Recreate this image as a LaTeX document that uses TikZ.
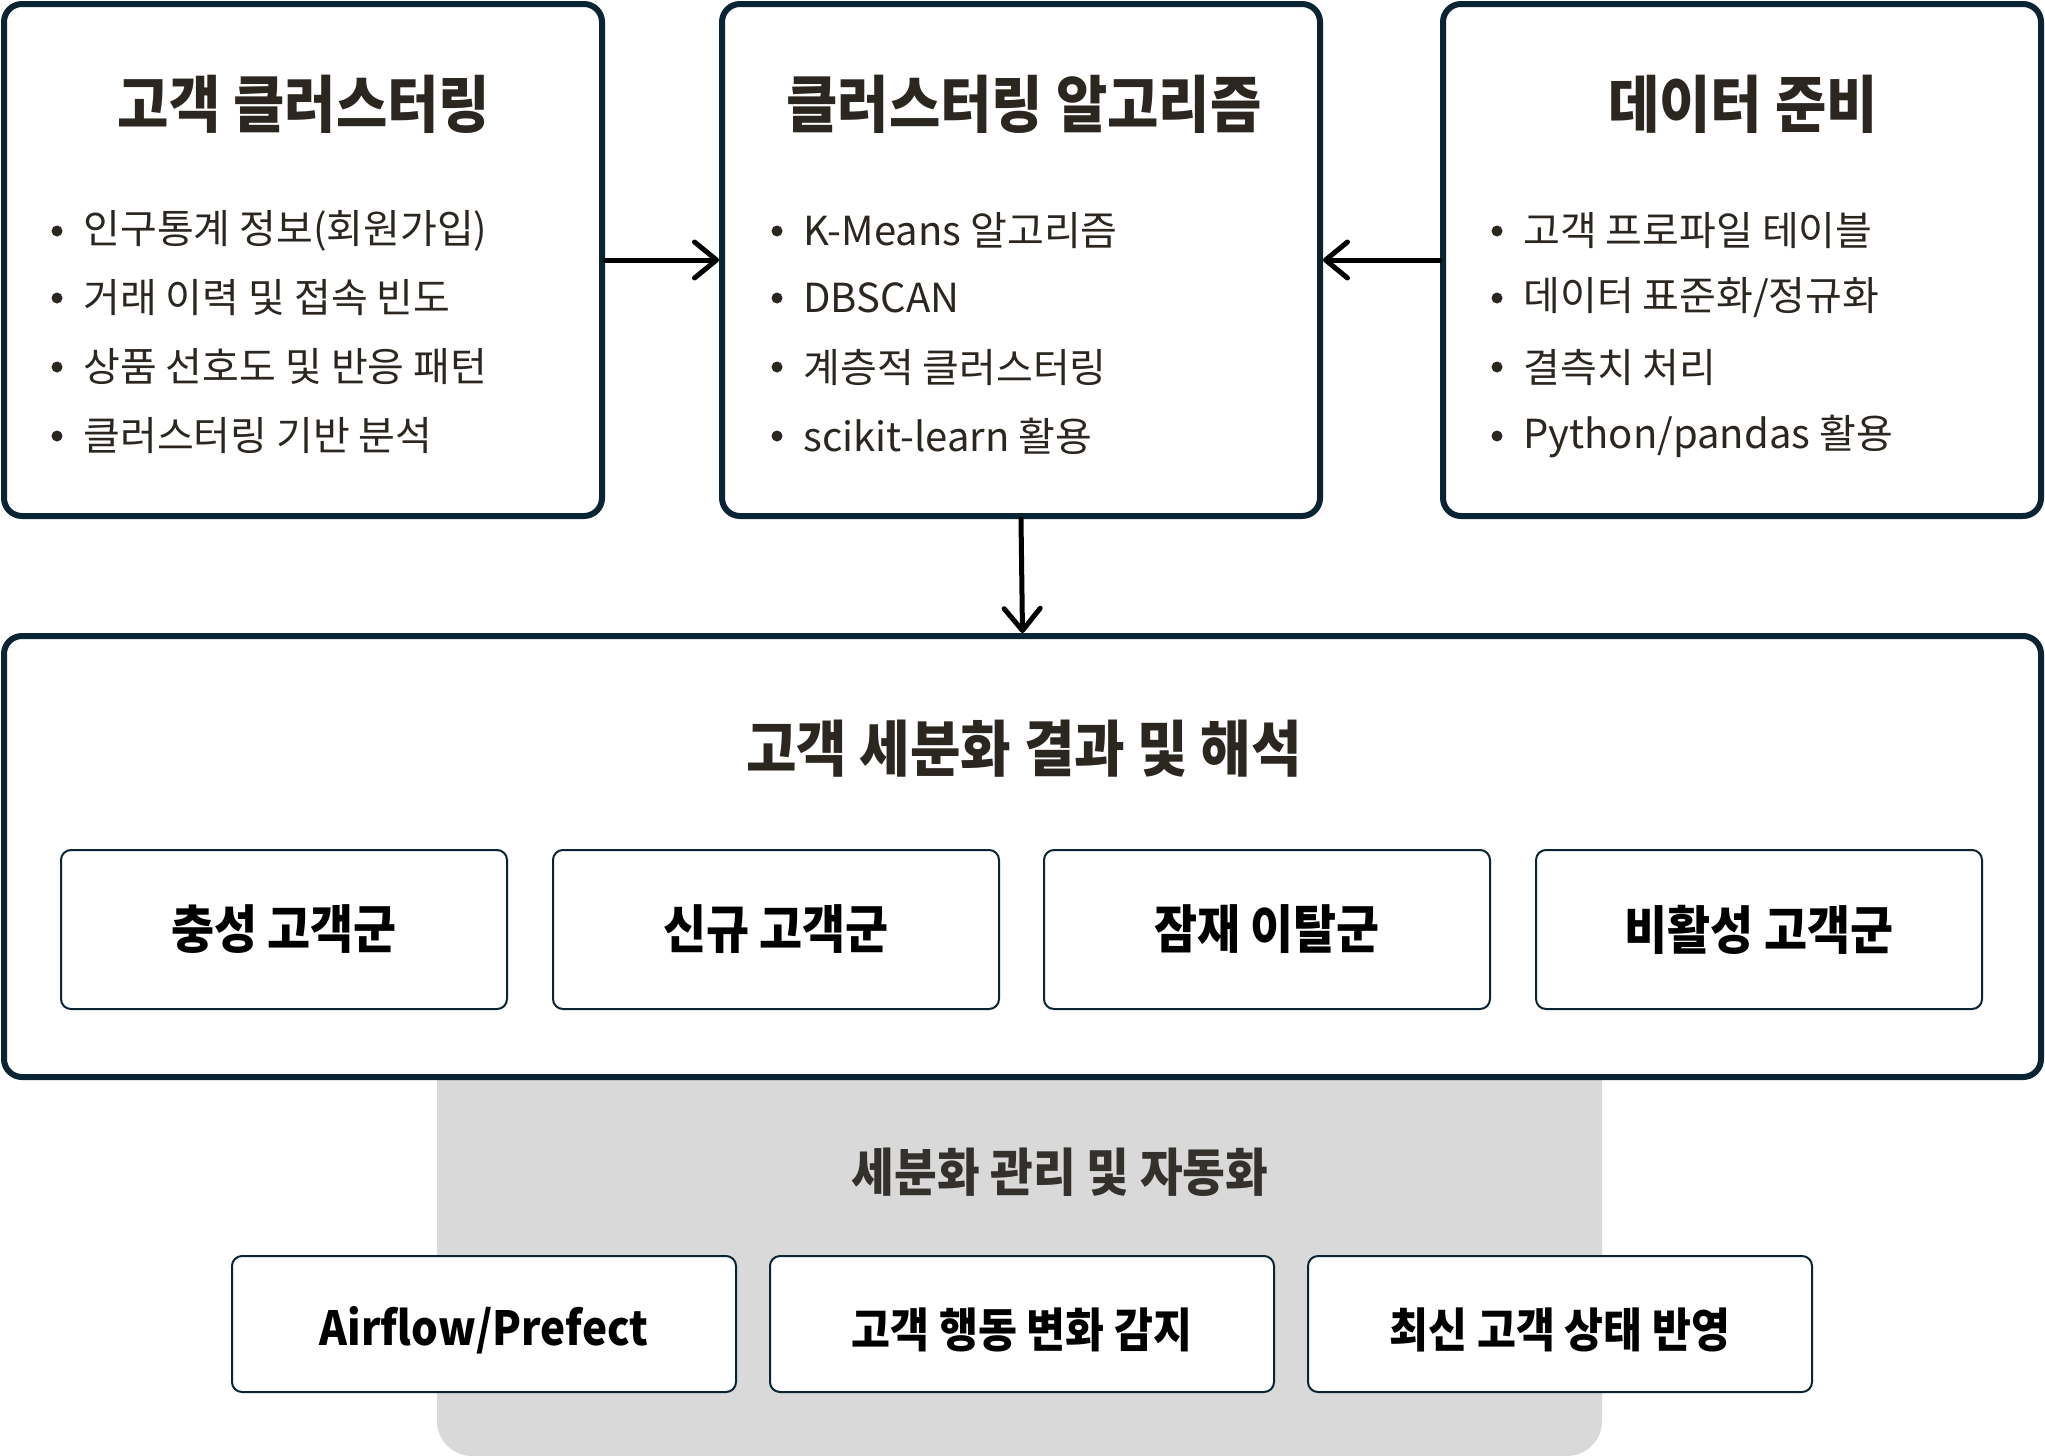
\documentclass[tikz,border=0pt]{standalone}
\usepackage{fontspec}
\newfontfamily\krr{Noto Sans CJK KR}
\newfontfamily\krb{Noto Sans CJK KR}[FakeStretch=0.9]
\usetikzlibrary{arrows.meta}
\definecolor{navy}{HTML}{0B2433}
\definecolor{ink}{HTML}{2B2620}
\definecolor{graybg}{HTML}{D9D9D9}
\newcommand{\lowr}[1]{\raisebox{-3pt}[\height][\depth]{#1}}
\begin{document}
\begin{tikzpicture}[x=0.5pt,y=-0.5pt,
  bigbox/.style={draw=navy,line width=3pt,rounded corners=9pt,fill=white,inner sep=0pt},
  subbox/.style={draw=navy,line width=1pt,rounded corners=5pt,fill=white,inner sep=0pt,
    font=\krb\bfseries\fontsize{26}{30}\selectfont,text=black,minimum width=223pt,minimum height=79.5pt},
  botbox/.style={draw=navy,line width=1pt,rounded corners=5pt,fill=white,inner sep=0pt,
    font=\krb\bfseries\fontsize{23.5}{28}\selectfont,text=black,minimum width=252pt,minimum height=68pt},
  boxtitle/.style={font=\krb\bfseries\fontsize{31}{35}\selectfont,text=ink,inner sep=0pt},
  item/.style={font=\krr\fontsize{20}{24}\selectfont,text=ink,anchor=west,inner sep=0pt},
  dot/.style={circle,fill=ink,inner sep=0pt,minimum size=5.5pt},
  conn/.style={line width=2.5pt,line cap=round,-{Straight Barb[length=11pt,width=18pt,line cap=round,round]}},
]
\useasboundingbox (0,0) rectangle (2045,1456);

% gray automation panel (behind)
\node[fill=graybg,rounded corners=17.5pt,minimum width=582.5pt,minimum height=228pt,inner sep=0pt] (panel) at (1019.5,1228) {};

% top boxes
\node[bigbox,minimum width=299pt,minimum height=256pt] (b1) at (303,260) {};
\node[bigbox,minimum width=299pt,minimum height=256pt] (b2) at (1021,260) {};
\node[bigbox,minimum width=299pt,minimum height=256pt] (b3) at (1742,260) {};

\node[boxtitle] (t1) at (304,104) {고객 클러스터링};
\node[boxtitle] (t2) at (1024,104) {클러스터링 알고리즘};
\node[boxtitle] (t3) at (1743,104) {데이터 준비};

% items box 1
\node[dot] (d11) at (57,231) {};
\node[dot] (d12) at (57,298) {};
\node[dot] (d13) at (57,367) {};
\node[dot] (d14) at (57,436) {};
\node[item] (i11) at (83,231) {인구통계 정보(회원가입)};
\node[item] (i12) at (83,298) {거래 이력 및 접속 빈도};
\node[item] (i13) at (83,367) {상품 선호도 및 반응 패턴};
\node[item] (i14) at (83,436) {클러스터링 기반 분석};

% items box 2
\node[dot] (d21) at (777,231) {};
\node[dot] (d22) at (777,298) {};
\node[dot] (d23) at (777,367) {};
\node[dot] (d24) at (777,436) {};
\node[item] (i21) at (803,231) {K-Means 알고리즘};
\node[item] (i22) at (803,298) {DBSCAN};
\node[item] (i23) at (803,367) {계층적 클러스터링};
\node[item] (i24) at (803,436) {scikit-learn 활용};

% items box 3
\node[dot] (d31) at (1497,231) {};
\node[dot] (d32) at (1497,298) {};
\node[dot] (d33) at (1497,367) {};
\node[dot] (d34) at (1497,436) {};
\node[item] (i31) at (1523,231) {고객 프로파일 테이블};
\node[item] (i32) at (1523,298) {데이터 표준화/정규화};
\node[item] (i33) at (1523,367) {결측치 처리};
\node[item] (i34) at (1523,436) {Python/pandas 활용};

% result box
\node[bigbox,minimum width=1018.5pt,minimum height=220.5pt] (res) at (1022.5,856.5) {};
\node[boxtitle,font=\krb\bfseries\fontsize{30.5}{34}\selectfont] (rt) at (1024,749) {고객 세분화 결과 및 해석};
\node[subbox] (s1) at (284,929.5) {충성 고객군};
\node[subbox] (s2) at (776,929.5) {신규 고객군};
\node[subbox] (s3) at (1267,929.5) {잠재 이탈군};
\node[subbox] (s4) at (1759,929.5) {비활성 고객군};

% automation
\node[boxtitle,font=\krb\bfseries\fontsize{25.8}{30}\selectfont,text={rgb,255:red,52;green,48;blue,44}] (pt) at (1060,1172) {세분화 관리 및 자동화};
\node[botbox] (a1) at (484,1324) {\lowr{Airflow/Prefect}};
\node[botbox] (a2) at (1022,1324) {\lowr{고객 행동 변화 감지}};
\node[botbox] (a3) at (1560,1324) {\lowr{최신 고객 상태 반영}};

% connectors
\draw[conn] (b1.east) -- (b2.west);
\draw[conn] (b3.west) -- (b2.east);
\draw[conn] (b2.south) -- (res.north);
\end{tikzpicture}
\end{document}
